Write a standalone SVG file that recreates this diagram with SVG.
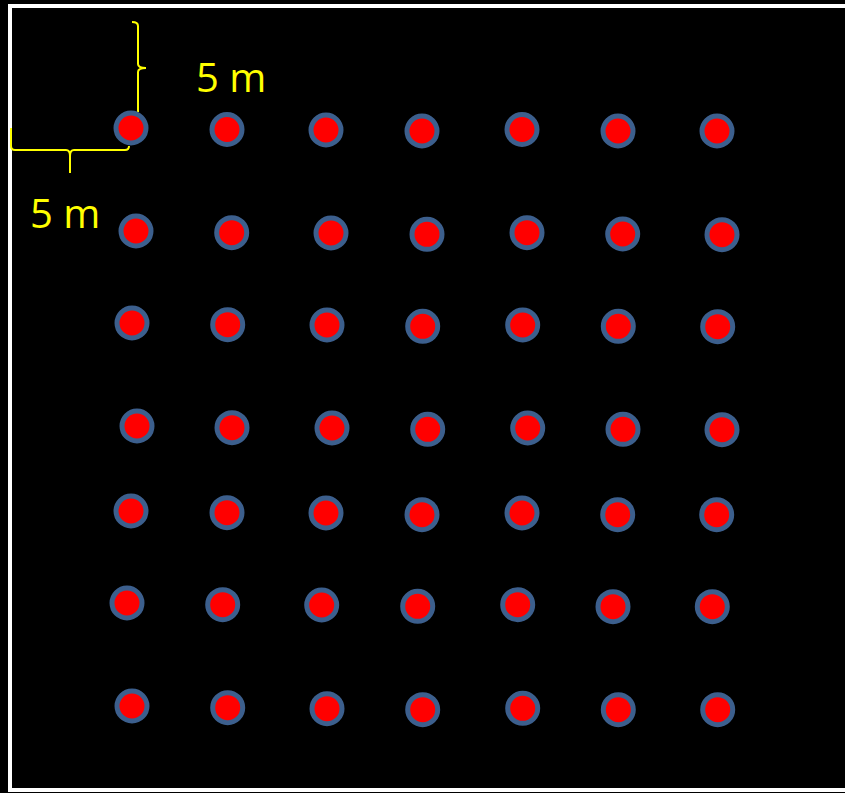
<svg xmlns="http://www.w3.org/2000/svg" width="845" height="793" viewBox="0 0 845 793">
<style>
.dot{fill:#FF0000;stroke:#3C5F8D;stroke-width:5}
.brace{fill:none;stroke:#FFFF00;stroke-width:2}
.lbl{font-family:"Open Sans","Noto Sans",sans-serif;font-size:40px;fill:#FFFF00}
</style>
<rect x="0" y="0" width="845" height="793" fill="#000"/>
<rect x="10" y="6" width="850" height="784" fill="none" stroke="#FFFFFF" stroke-width="4"/>
<g id="dimensions">
<path class="brace" d="M132,22 Q138,22 138,26 L138,64 Q138,68 146,68 Q138,68 138,72 L138,112"/>
<path class="brace" d="M11,128 L11,146 Q11,150 15,150 L66,150 Q70,150 70,156 L70,173 M70,156 Q70,150 74,150 L125,150 Q129,150 129,146"/>
<text class="lbl" x="196" y="92">5 m</text>
<text class="lbl" x="30" y="228">5 m</text>
</g>
<g id="dots">
<circle class="dot" cx="131" cy="128" r="15"/><circle class="dot" cx="227" cy="129.5" r="15"/><circle class="dot" cx="326" cy="130" r="15"/><circle class="dot" cx="422" cy="131" r="15"/><circle class="dot" cx="522" cy="129.5" r="15"/><circle class="dot" cx="618" cy="131" r="15"/><circle class="dot" cx="717" cy="131" r="15"/>
<circle class="dot" cx="136" cy="231" r="15"/><circle class="dot" cx="231.7" cy="232.7" r="15"/><circle class="dot" cx="331" cy="233" r="15"/><circle class="dot" cx="427" cy="234.3" r="15"/><circle class="dot" cx="527" cy="232.7" r="15"/><circle class="dot" cx="622.7" cy="234" r="15"/><circle class="dot" cx="722" cy="234.7" r="15"/>
<circle class="dot" cx="132" cy="323" r="15"/><circle class="dot" cx="227.7" cy="324.7" r="15"/><circle class="dot" cx="327" cy="325" r="15"/><circle class="dot" cx="422.7" cy="326.3" r="15"/><circle class="dot" cx="522.7" cy="325" r="15"/><circle class="dot" cx="618.3" cy="326.3" r="15"/><circle class="dot" cx="717.7" cy="326.7" r="15"/>
<circle class="dot" cx="137" cy="426" r="15"/><circle class="dot" cx="232" cy="427.7" r="15"/><circle class="dot" cx="332" cy="428" r="15"/><circle class="dot" cx="427.7" cy="429.3" r="15"/><circle class="dot" cx="527.7" cy="428" r="15"/><circle class="dot" cx="623" cy="429.3" r="15"/><circle class="dot" cx="722" cy="429.7" r="15"/>
<circle class="dot" cx="131" cy="511" r="15"/><circle class="dot" cx="227" cy="512.7" r="15"/><circle class="dot" cx="326" cy="513" r="15"/><circle class="dot" cx="422" cy="514.7" r="15"/><circle class="dot" cx="522" cy="513" r="15"/><circle class="dot" cx="617.7" cy="514.7" r="15"/><circle class="dot" cx="716.7" cy="514.7" r="15"/>
<circle class="dot" cx="127" cy="603" r="15"/><circle class="dot" cx="222.7" cy="604.7" r="15"/><circle class="dot" cx="321.7" cy="605" r="15"/><circle class="dot" cx="417.7" cy="606.3" r="15"/><circle class="dot" cx="517.7" cy="604.7" r="15"/><circle class="dot" cx="613" cy="606.7" r="15"/><circle class="dot" cx="712.3" cy="606.7" r="15"/>
<circle class="dot" cx="132" cy="706" r="15"/><circle class="dot" cx="227.7" cy="707.7" r="15"/><circle class="dot" cx="327" cy="708.7" r="15"/><circle class="dot" cx="422.7" cy="709.7" r="15"/><circle class="dot" cx="522.7" cy="708.3" r="15"/><circle class="dot" cx="618.3" cy="709.7" r="15"/><circle class="dot" cx="717.7" cy="709.7" r="15"/>
</g>
</svg>
